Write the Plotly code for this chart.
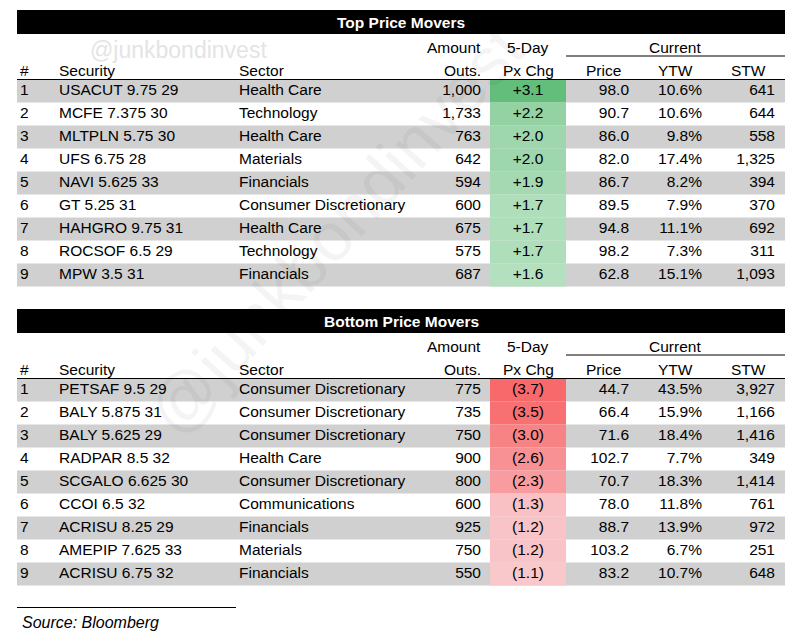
# Top / bottom 5-day price movers table
import plotly.graph_objects as go

# ---- data ----
top_rank = [1, 2, 3, 4, 5, 6, 7, 8, 9]
top_security = ["USACUT 9.75 29", "MCFE 7.375 30", "MLTPLN 5.75 30", "UFS 6.75 28", "NAVI 5.625 33",
                "GT 5.25 31", "HAHGRO 9.75 31", "ROCSOF 6.5 29", "MPW 3.5 31"]
top_sector = ["Health Care", "Technology", "Health Care", "Materials", "Financials",
              "Consumer Discretionary", "Health Care", "Technology", "Financials"]
top_amount = [1000, 1733, 763, 642, 594, 600, 675, 575, 687]
top_chg = [3.1, 2.2, 2.0, 2.0, 1.9, 1.7, 1.7, 1.7, 1.6]
top_price = [98.0, 90.7, 86.0, 82.0, 86.7, 89.5, 94.8, 98.2, 62.8]
top_ytw = [10.6, 10.6, 9.8, 17.4, 8.2, 7.9, 11.1, 7.3, 15.1]
top_stw = [641, 644, 558, 1325, 394, 370, 692, 311, 1093]

bot_rank = [1, 2, 3, 4, 5, 6, 7, 8, 9]
bot_security = ["PETSAF 9.5 29", "BALY 5.875 31", "BALY 5.625 29", "RADPAR 8.5 32", "SCGALO 6.625 30",
                "CCOI 6.5 32", "ACRISU 8.25 29", "AMEPIP 7.625 33", "ACRISU 6.75 32"]
bot_sector = ["Consumer Discretionary", "Consumer Discretionary", "Consumer Discretionary", "Health Care",
              "Consumer Discretionary", "Communications", "Financials", "Materials", "Financials"]
bot_amount = [775, 735, 750, 900, 800, 600, 925, 750, 550]
bot_chg = [-3.7, -3.5, -3.0, -2.6, -2.3, -1.3, -1.2, -1.2, -1.1]
bot_price = [44.7, 66.4, 71.6, 102.7, 70.7, 78.0, 88.7, 103.2, 83.2]
bot_ytw = [43.5, 15.9, 18.4, 7.7, 18.3, 11.8, 13.9, 6.7, 10.7]
bot_stw = [3927, 1166, 1416, 349, 1414, 761, 972, 251, 648]

FONT = "Arial, Liberation Sans, sans-serif"
FS = 15.5
GRAY = "#d0d0d0"
LEFT, RIGHT = 17, 785
ROW_H = 23
PAGE_PAD = 8  # default body margin of the html page


def blend(c0, c1, t):
    return "rgb(%d,%d,%d)" % tuple(round(a + (b - a) * t) for a, b in zip(c0, c1))


def chg_colors(vals, light, dark):
    mags = [abs(v) for v in vals]
    lo, hi = min(mags), max(mags)
    return [blend(light, dark, (m - lo) / (hi - lo)) for m in mags]


fig = go.Figure()
shapes = []
annotations = []


def add_table(top, title, rank, security, sector, amount, chg, price, ytw, stw, colors):
    ys = [top + 81 + ROW_H * i for i in range(len(rank))]

    # title bar
    shapes.append(dict(type="rect", x0=LEFT, x1=RIGHT, y0=top, y1=top + 24,
                       fillcolor="black", line_width=0, layer="below"))
    annotations.append(dict(x=(LEFT + RIGHT) / 2, y=top + 12, text="<b>%s</b>" % title,
                            showarrow=False, font=dict(color="white", size=FS, family=FONT)))

    # banded rows
    for i, y in enumerate(ys):
        if i % 2 == 0:
            shapes.append(dict(type="rect", x0=LEFT, x1=RIGHT, y0=y - ROW_H / 2, y1=y + ROW_H / 2,
                               fillcolor=GRAY, line_width=0, layer="below"))
    # px chg heat cells
    for y, c in zip(ys, colors):
        shapes.append(dict(type="rect", x0=490, x1=566, y0=y - ROW_H / 2, y1=y + ROW_H / 2,
                           fillcolor=c, line_width=0, layer="below"))

    # header lines
    shapes.append(dict(type="line", x0=LEFT, x1=RIGHT, y0=top + 69.5, y1=top + 69.5,
                       line=dict(color="black", width=1.2)))
    shapes.append(dict(type="line", x0=566, x1=RIGHT, y0=top + 46, y1=top + 46,
                       line=dict(color="black", width=1.2)))

    # header text (annotation boxes carry ~2px padding, so nudge the anchors)
    hdr = [("#", 18, 60, "left"), ("Security", 57, 60, "left"), ("Sector", 237, 60, "left"),
           ("Amount", 483, 37, "right"), ("Outs.", 483, 60, "right"),
           ("5-Day", 528, 37, "center"), ("Px Chg", 528, 60, "center"),
           ("Current", 675, 37, "center"), ("Price", 603, 60, "center"),
           ("YTW", 675, 60, "center"), ("STW", 748, 60, "center")]
    for txt, x, dy, anchor in hdr:
        annotations.append(dict(x=x, y=top + dy, text=txt, xanchor=anchor, showarrow=False,
                                font=dict(color="black", size=FS, family=FONT)))

    cols = [
        ([str(r) for r in rank], 20, "middle right"),
        (security, 59, "middle right"),
        (sector, 239, "middle right"),
        (["{:,}".format(v) for v in amount], 481, "middle left"),
        (["+%.1f" % v if v > 0 else "(%.1f)" % abs(v) for v in chg], 528, "middle center"),
        (["%.1f" % v for v in price], 629, "middle left"),
        (["%.1f%%" % v for v in ytw], 702, "middle left"),
        (["{:,}".format(v) for v in stw], 775, "middle left"),
    ]
    for txt, x, pos in cols:
        fig.add_trace(go.Scatter(x=[x] * len(txt), y=[y + 0.5 for y in ys], text=txt, mode="text",
                                 textposition=pos, hoverinfo="skip",
                                 textfont=dict(color="black", size=FS, family=FONT)))


add_table(10, "Top Price Movers", top_rank, top_security, top_sector, top_amount, top_chg,
          top_price, top_ytw, top_stw, chg_colors(top_chg, (180, 224, 192), (99, 190, 123)))
add_table(309, "Bottom Price Movers", bot_rank, bot_security, bot_sector, bot_amount, bot_chg,
          bot_price, bot_ytw, bot_stw, chg_colors(bot_chg, (249, 200, 203), (248, 105, 107)))

# watermarks
annotations.append(dict(x=178, y=50, text="@junkbondinvest", showarrow=False,
                        font=dict(color="#e4e4e4", size=23, family=FONT)))
annotations.append(dict(x=335, y=230, text="@junkbondinvest", showarrow=False, textangle=-48,
                        font=dict(color="rgba(0,0,0,0.045)", size=68, family=FONT)))

# source note
shapes.append(dict(type="line", x0=LEFT, x1=236, y0=607.5, y1=607.5, line=dict(color="black", width=1.2)))
annotations.append(dict(x=20, y=622, text="<i>Source: Bloomberg</i>", xanchor="left", showarrow=False,
                        font=dict(color="black", size=16, family=FONT)))

fig.update_layout(
    width=796, height=631,
    margin=dict(l=0, r=0, t=0, b=0),
    paper_bgcolor="white", plot_bgcolor="white",
    showlegend=False, hovermode=False,
    xaxis=dict(range=[PAGE_PAD, 796 + PAGE_PAD], visible=False, fixedrange=True),
    yaxis=dict(range=[631 + PAGE_PAD, PAGE_PAD], visible=False, fixedrange=True),
    shapes=shapes, annotations=annotations,
)

fig.write_html("out.html")
